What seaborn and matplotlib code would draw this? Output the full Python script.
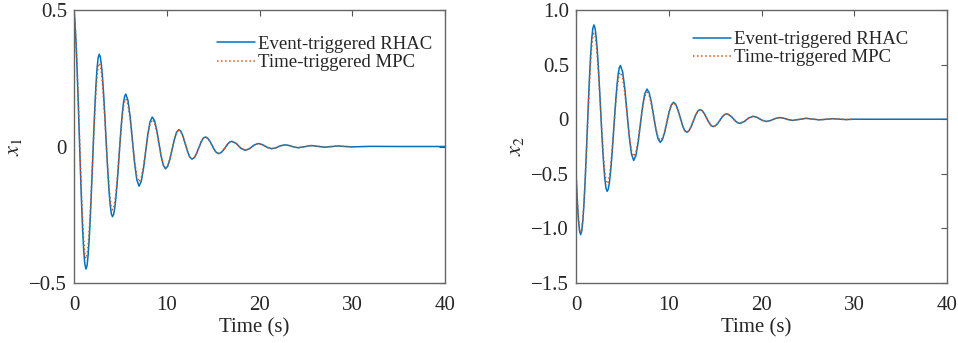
import numpy as np
import matplotlib
matplotlib.use("Agg")
import matplotlib.pyplot as plt
import seaborn as sns

# time samples (s), denser where the swings are large
t_x1 = [0, 0.098, 0.218, 0.337, 0.456, 0.575, 0.694, 0.814, 0.933, 1.052, 1.171, 1.29,
        1.409, 1.528, 1.648, 1.767, 1.886, 2.005, 2.124, 2.243, 2.363, 2.482, 2.601, 2.72,
        2.839, 2.958, 3.078, 3.197, 3.316, 3.435, 3.554, 3.673, 3.793, 3.912, 4.031, 4.15,
        4.269, 4.388, 4.508, 4.627, 4.746, 4.865, 4.984, 5.103, 5.223, 5.342, 5.461, 5.58,
        5.818, 6.057, 6.295, 6.533, 6.772, 7.01,
        7.248, 7.487, 7.725, 7.963, 8.202, 8.44,
        8.678, 8.917, 9.155, 9.393, 9.632, 9.87,
        10.108, 10.347, 10.585, 10.823, 11.062, 11.30,
        11.538, 11.777, 12.015, 12.253, 12.492, 12.73,
        12.968, 13.207, 13.445, 13.683, 13.922, 14.16,
        14.398, 14.637, 14.875, 15.113, 15.352, 15.59,
        15.828, 16.067, 16.305, 16.543, 16.782, 17.02,
        17.497, 17.973, 18.45, 18.927, 19.403, 19.88, 20.357, 20.833, 21.31,
        21.787, 22.263, 22.74, 23.217, 23.693, 24.17,
        24.885, 25.60, 26.315, 27.03, 27.745, 28.46, 29.175, 29.89,
        30.0, 32.0, 35.0, 40.0]

rhac_x1 = [0.500, 0.458, 0.381, 0.280, 0.163, 0.037, -0.089, -0.206, -0.307, -0.384, -0.432, -0.449,
           -0.436, -0.396, -0.334, -0.252, -0.157, -0.056, 0.046, 0.141, 0.223, 0.285, 0.325, 0.338,
           0.328, 0.298, 0.251, 0.189, 0.118, 0.041, -0.037, -0.108, -0.170, -0.217, -0.247, -0.257,
           -0.249, -0.227, -0.191, -0.145, -0.091, -0.033, 0.026, 0.080, 0.126, 0.162, 0.184, 0.192,
           0.169, 0.108, 0.024, -0.061, -0.122, -0.145,
           -0.128, -0.082, -0.019, 0.045, 0.091, 0.108,
           0.095, 0.061, 0.013, -0.035, -0.069, -0.082,
           -0.072, -0.046, -0.010, 0.026, 0.052, 0.062,
           0.055, 0.035, 0.008, -0.019, -0.039, -0.046,
           -0.041, -0.026, -0.006, 0.015, 0.030, 0.035,
           0.031, 0.020, 0.005, -0.011, -0.022, -0.026,
           -0.023, -0.015, -0.004, 0.008, 0.016, 0.019,
           0.011, -0.006, -0.014, -0.008, 0.005, 0.011, 0.006, -0.003, -0.008,
           -0.0045, 0.0025, 0.006, 0.0034, -0.0019, -0.0045,
           -0.0006, 0.0034, 0.0005, -0.0025, -0.0003, 0.0019, 0.0002, -0.0014,
           -0.0013, 0.0005, 0.0, 0.0]

# MPC curve differs only over the first oscillations, then lies on top of RHAC until 30 s
mpc_x1_head = [0.500, 0.460, 0.386, 0.289, 0.177, 0.056, -0.065, -0.177, -0.274, -0.348, -0.394, -0.410,
               -0.398, -0.362, -0.305, -0.231, -0.145, -0.053, 0.040, 0.126, 0.200, 0.257, 0.293, 0.305,
               0.296, 0.269, 0.226, 0.171, 0.106, 0.037, -0.033, -0.098, -0.153, -0.196, -0.223, -0.232,
               -0.225, -0.205, -0.173, -0.131, -0.082, -0.029, 0.024, 0.073, 0.115, 0.147, 0.167, 0.174,
               0.154, 0.098, 0.022, -0.054, -0.110, -0.130,
               -0.115, -0.073, -0.016, 0.042, 0.084, 0.099,
               0.087, 0.055, 0.011, -0.034, -0.066, -0.078,
               -0.069, -0.044, -0.009, 0.026, 0.051, 0.060,
               0.053, 0.034, 0.007, -0.020, -0.039, -0.046]
mpc_x1 = mpc_x1_head + rhac_x1[len(mpc_x1_head):120]

t_x2 = [0, 0.143, 0.262, 0.381, 0.50,
        0.619, 0.738, 0.858, 0.977, 1.096, 1.215, 1.334, 1.453, 1.573, 1.692, 1.811, 1.93,
        2.049, 2.168, 2.288, 2.407, 2.526, 2.645, 2.764, 2.883, 3.003, 3.122, 3.241, 3.36,
        3.479, 3.598, 3.718, 3.837, 3.956, 4.075, 4.194, 4.313, 4.433, 4.552, 4.671, 4.79,
        5.028, 5.267, 5.505, 5.743, 5.982, 6.22,
        6.458, 6.697, 6.935, 7.173, 7.412, 7.65,
        7.888, 8.127, 8.365, 8.603, 8.842, 9.08,
        9.318, 9.557, 9.795, 10.033, 10.272, 10.51,
        10.748, 10.987, 11.225, 11.463, 11.702, 11.94,
        12.178, 12.417, 12.655, 12.893, 13.132, 13.37,
        13.608, 13.847, 14.085, 14.323, 14.562, 14.80,
        15.038, 15.277, 15.515, 15.753, 15.992, 16.23,
        16.468, 16.707, 16.945, 17.183, 17.422, 17.66,
        18.137, 18.613, 19.09, 19.567, 20.043, 20.52,
        20.997, 21.473, 21.95, 22.427, 22.903, 23.38,
        24.095, 24.81, 25.525, 26.24, 26.955, 27.67, 28.385, 29.10, 29.815,
        30.0, 32.0, 35.0, 40.0]

rhac_x2 = [-0.490, -0.753, -0.919, -1.023, -1.058,
           -1.025, -0.929, -0.777, -0.578, -0.346, -0.098, 0.151, 0.383, 0.582, 0.734, 0.830, 0.863,
           0.837, 0.761, 0.640, 0.482, 0.299, 0.102, -0.096, -0.279, -0.437, -0.558, -0.634, -0.660,
           -0.640, -0.583, -0.491, -0.372, -0.233, -0.084, 0.065, 0.204, 0.323, 0.415, 0.472, 0.492,
           0.434, 0.275, 0.057, -0.161, -0.320, -0.378,
           -0.334, -0.215, -0.051, 0.113, 0.232, 0.276,
           0.243, 0.154, 0.032, -0.090, -0.179, -0.212,
           -0.187, -0.120, -0.029, 0.063, 0.130, 0.155,
           0.137, 0.086, 0.018, -0.051, -0.102, -0.120,
           -0.106, -0.068, -0.016, 0.036, 0.074, 0.088,
           0.078, 0.049, 0.010, -0.029, -0.058, -0.068,
           -0.060, -0.039, -0.010, 0.020, 0.041, 0.049,
           0.043, 0.027, 0.006, -0.016, -0.032, -0.038,
           -0.022, 0.011, 0.027, 0.015, -0.009, -0.021,
           -0.012, 0.006, 0.015, 0.0085, -0.0045, -0.011,
           -0.0015, 0.008, 0.001, -0.006, -0.0008, 0.0045, 0.0006, -0.0034, -0.0005,
           0.0, -0.0005, 0.0, 0.0]

mpc_x2_head = [-0.490, -0.745, -0.905, -1.006, -1.040,
               -1.009, -0.918, -0.772, -0.583, -0.363, -0.127, 0.110, 0.330, 0.519, 0.665, 0.756, 0.787,
               0.764, 0.695, 0.585, 0.443, 0.277, 0.099, -0.080, -0.246, -0.388, -0.498, -0.567, -0.590,
               -0.573, -0.522, -0.441, -0.335, -0.212, -0.080, 0.052, 0.175, 0.281, 0.362, 0.413, 0.430,
               0.378, 0.237, 0.044, -0.149, -0.290, -0.342,
               -0.303, -0.195, -0.047, 0.101, 0.209, 0.248,
               0.218, 0.137, 0.027, -0.084, -0.165, -0.195,
               -0.172, -0.109, -0.023, 0.064, 0.127, 0.150,
               0.132, 0.083, 0.015, -0.053, -0.102, -0.120]
mpc_x2 = mpc_x2_head + rhac_x2[len(mpc_x2_head):116]

x_ticks = [0, 10, 20, 30, 40]
y1_ticks = [-0.5, 0, 0.5]
y1_labels = ["\u22120.5", "0", "0.5"]
y2_ticks = [-1.5, -1.0, -0.5, 0, 0.5, 1.0]
y2_labels = ["\u22121.5", "\u22121.0", "\u22120.5", "0", "0.5", "1.0"]
series_names = ["Event-triggered RHAC", "Time-triggered MPC"]

sns.set_style("white")
plt.rcParams["font.family"] = ["Liberation Serif", "DejaVu Serif"]
plt.rcParams["mathtext.fontset"] = "stix"
tick_fs = 15
leg_fs = 13.5

fig = plt.figure(figsize=(9.58, 3.43), dpi=100)
W, H = 958, 343
ax1 = fig.add_axes([74 / W, (H - 283) / H, 371 / W, 273 / H])
ax2 = fig.add_axes([576 / W, (H - 283) / H, 371 / W, 273 / H])

panels = [
    (ax1, t_x1, rhac_x1, mpc_x1, (-0.5, 0.5), y1_ticks, y1_labels, "$x_1$", (0.965, 0.905)),
    (ax2, t_x2, rhac_x2, mpc_x2, (-1.5, 1.0), y2_ticks, y2_labels, "$x_2$", (0.895, 0.922)),
]

for ax, t, rhac, mpc, ylim, yt, ylab, name, anchor in panels:
    sns.lineplot(x=t, y=rhac, ax=ax, color="#0072BD", lw=1.1,
                 label=series_names[0], estimator=None, sort=False)
    sns.lineplot(x=t[:len(mpc)], y=mpc, ax=ax, color="#D95319", lw=1.1,
                 linestyle=":", label=series_names[1], estimator=None, sort=False)
    ax.set_xlim(0, 40)
    ax.set_ylim(*ylim)
    ax.set_xticks(x_ticks)
    ax.set_xticklabels([str(v) for v in x_ticks])
    ax.set_yticks(yt)
    ax.set_yticklabels(ylab)
    ax.tick_params(direction="in", length=4, width=0.8, color="#555555",
                   top=True, right=True, labelsize=tick_fs)
    ax.tick_params(axis="x", pad=9)
    ax.tick_params(axis="y", pad=5)
    for sp in ax.spines.values():
        sp.set_visible(True)
        sp.set_color("#666666")
        sp.set_linewidth(1.0)
    ax.set_xlabel("Time (s)", fontsize=tick_fs, labelpad=3, x=0.485)
    ax.set_ylabel(name, fontsize=16, labelpad=4)
    ax.legend(loc="upper right", bbox_to_anchor=anchor, frameon=False,
              fontsize=leg_fs, handlelength=2.0, handletextpad=0.15,
              labelspacing=0.05, borderpad=0, borderaxespad=0)

fig.savefig("out.png", dpi=100)
